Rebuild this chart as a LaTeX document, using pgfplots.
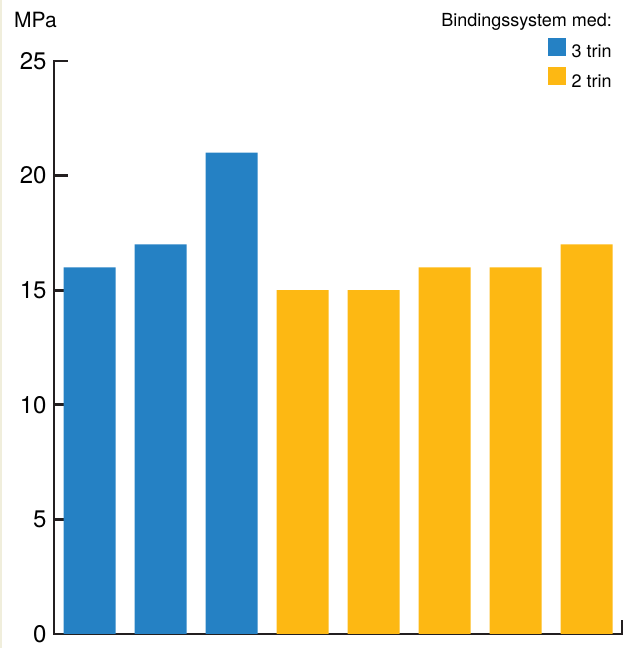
\documentclass[border=0pt]{standalone}
\usepackage{fontspec}
\setmainfont{TeX Gyre Heros}
\usepackage{pgfplots}
\pgfplotsset{compat=1.18}
\definecolor{barblue}{HTML}{2581C4}
\definecolor{baryellow}{HTML}{FDB813}
\definecolor{axisblack}{HTML}{231F20}
\definecolor{edgecol}{RGB}{240,238,220}
\begin{document}
\begin{tikzpicture}
\useasboundingbox (0,0) rectangle (634pt,648pt);
\fill[edgecol] (0,0) rectangle (1.5pt,648pt);
\begin{axis}[
  at={(54pt,14pt)}, anchor=south west,
  scale only axis, width=568pt, height=573pt,
  xmin=-0.5, xmax=7.5, ymin=0, ymax=25,
  axis x line=bottom, axis y line=left,
  xtick=\empty,
  ytick={0,5,...,25},
  tick align=inside,
  major tick length=14pt,
  every tick/.style={line width=2.8pt, color=axisblack},
  axis line style={line width=2.8pt, color=axisblack, -, line cap=rect},
  yticklabel style={font=\fontsize{24}{24}\selectfont, xshift=-4pt},
  ybar, bar width=52pt, bar shift=0pt,
  clip=false,
  legend image code/.code={\fill[#1] (0pt,-4pt) rectangle (18pt,14pt);},
  legend style={at={(0.982,1.040)}, anchor=north east, draw=none, fill=none,
    font=\fontsize{18}{18}\selectfont, inner sep=0pt, row sep=8pt,
    nodes={inner sep=0pt},
    /tikz/every odd column/.append style={column sep=6pt}},
  legend cell align=left,
  /pgf/number format/assume math mode=true,
]
\addplot[fill=barblue, draw=none] coordinates {(0,16)(1,17)(2,21)};
\addplot[fill=baryellow, draw=none] coordinates {(3,15)(4,15)(5,16)(6,16)(7,17)};
\legend{3 trin, 2 trin}
\draw[line width=2.8pt, axisblack] (axis cs:7.5,0) -- ([yshift=14pt]axis cs:7.5,0);
\end{axis}
\node[anchor=base west, inner sep=0pt, font=\fontsize{21}{21}\selectfont] at (14pt,620pt) {MPa};
\node[anchor=base east, inner sep=0pt, font=\fontsize{18}{18}\selectfont] at (612pt,621pt) {Bindingssystem med:};
\end{tikzpicture}
\end{document}
